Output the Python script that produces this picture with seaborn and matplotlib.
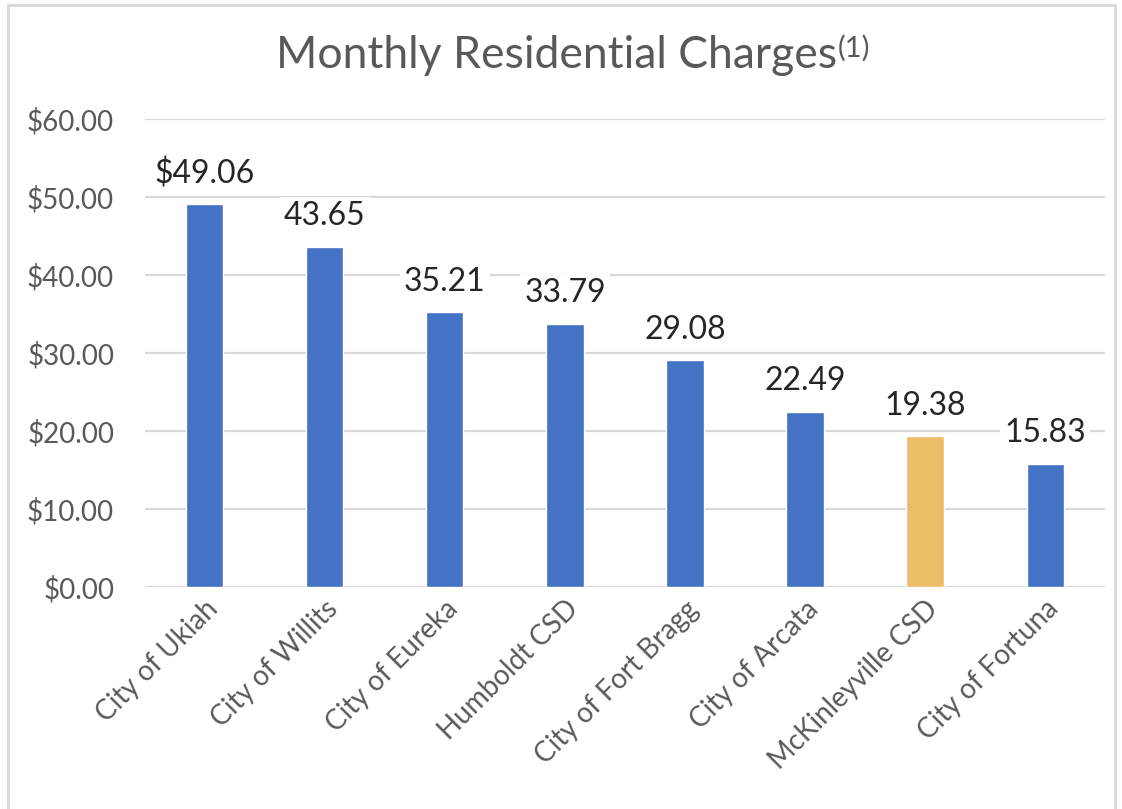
import matplotlib
matplotlib.use("Agg")
import matplotlib.pyplot as plt
import seaborn as sns
import pandas as pd
from matplotlib.patches import Rectangle

agencies = ["City of Ukiah", "City of Willits", "City of Eureka", "Humboldt CSD",
            "City of Fort Bragg", "City of Arcata", "McKinleyville CSD", "City of Fortuna"]
charges = [49.06, 43.65, 35.21, 33.79, 29.08, 22.49, 19.38, 15.83]
value_labels = ["$49.06", "43.65", "35.21", "33.79", "29.08", "22.49", "19.38", "15.83"]
highlight = "McKinleyville CSD"
y_ticks = [0, 10, 20, 30, 40, 50, 60]

BLUE = "#4472C4"
GOLD = "#EBBE66"

sns.set_theme(style="white")
plt.rcParams["font.family"] = ["Lato", "DejaVu Sans"]

df = pd.DataFrame({"agency": agencies, "charge": charges})
palette = {a: (GOLD if a == highlight else BLUE) for a in agencies}

fig = plt.figure(figsize=(11.22, 8.09), dpi=100)
ax = fig.add_axes([0.129, 0.274, 0.856, 0.579])

sns.barplot(data=df, x="agency", y="charge", hue="agency", palette=palette,
            width=0.31, legend=False, ax=ax, zorder=3, saturation=1)

ax.set_ylim(0, 60)
ax.set_xlim(-0.5, len(agencies) - 0.5)
ax.set_yticks(y_ticks)
ax.set_yticklabels([f"${v:.2f}" for v in y_ticks])
ax.yaxis.grid(True, color="#D9D9D9", linewidth=1.6, zorder=0)
ax.xaxis.grid(False)
for s in ax.spines.values():
    s.set_visible(False)
ax.tick_params(axis="y", length=0, pad=22, labelsize=20, labelcolor="#595959")
ax.tick_params(axis="x", length=0, pad=6, labelsize=20, labelcolor="#595959")
ax.set_xticks(range(len(agencies)))
ax.set_xticklabels(agencies, rotation=45, ha="right", rotation_mode="anchor")
ax.set_xlabel("")
ax.set_ylabel("")

for i, (v, lab) in enumerate(zip(charges, value_labels)):
    ax.annotate(lab, (i, v), xytext=(0, 11), textcoords="offset points",
                ha="center", va="bottom", fontsize=23, color="#262626",
                bbox=dict(boxstyle="square,pad=0.12", fc="white", ec="none"), zorder=5)

fig.text(0.496, 0.932, "Monthly Residential Charges", ha="center", va="center",
         fontsize=32, color="#595959")
fig.text(0.747, 0.940, "(1)", ha="left", va="center", fontsize=21, color="#595959")

fig.patches.append(Rectangle((0.007, -0.01), 0.987, 1.004, transform=fig.transFigure,
                             fill=False, ec="#D9D9D9", lw=2))

fig.savefig("out.png", dpi=100, facecolor="white")
